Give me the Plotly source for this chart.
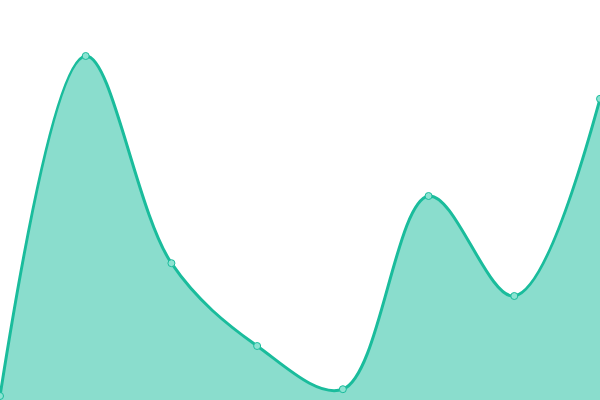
import plotly.graph_objects as go

# values (0-100 scale, no axes shown)
labels = ["A", "B", "C", "D", "E", "F", "G", "H"]
xs = [0, 1, 2, 3, 4, 5, 6, 7]
values = [1, 86, 34.2, 13.5, 2.7, 51, 26, 75.3]

fig = go.Figure()
fig.add_trace(go.Scatter(
    x=xs, y=values,
    mode="lines+markers",
    line=dict(color="#1abc9c", width=3, shape="spline", smoothing=1),
    fill="tozeroy",
    fillcolor="rgba(26,188,156,0.51)",
    marker=dict(size=7, color="#8ce3d2", line=dict(color="#1abc9c", width=1)),
    hoverinfo="skip",
))

fig.update_layout(
    width=600, height=400,
    margin=dict(l=0, r=0, t=0, b=0),
    paper_bgcolor="white", plot_bgcolor="white",
    showlegend=False,
    xaxis=dict(range=[0, 7], visible=False, fixedrange=True),
    yaxis=dict(range=[0, 100], visible=False, fixedrange=True),
)

# drop the default page margin so the chart fills the window
fig.write_html("out.html", config={"displayModeBar": False},
               post_script="document.body.style.margin='0';document.body.style.overflow='hidden';")
